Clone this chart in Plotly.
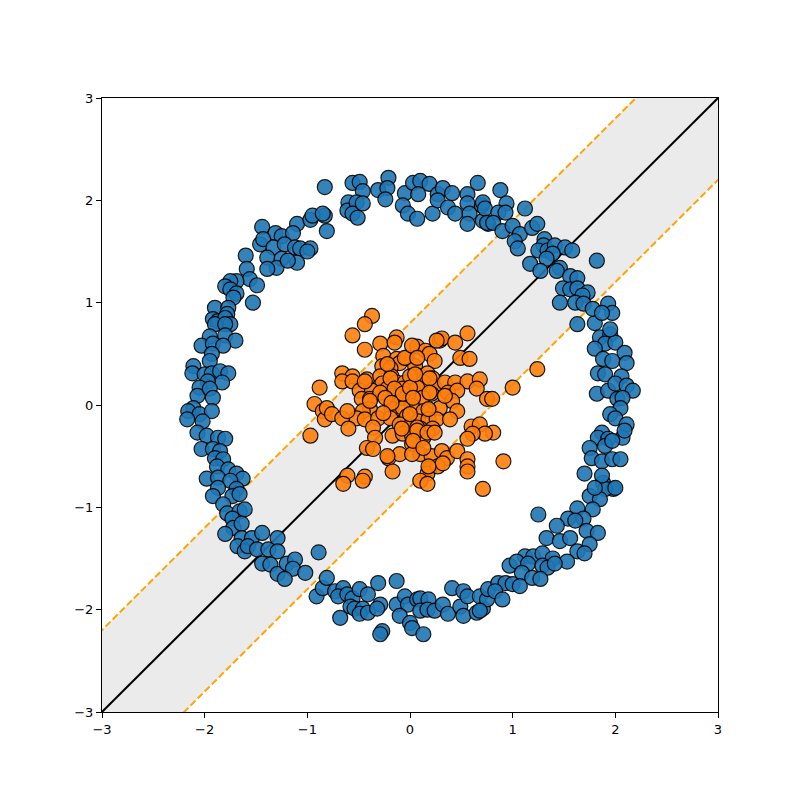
import numpy as np
import plotly.graph_objects as go

# Outer ring (class 0, blue)
blue_x = [-0.83,-0.56,-0.49,-0.46,-0.21,-0.31,-0.22,-0.24,-0.60,-0.61,-0.52,-0.56,-0.51,-0.46,-0.83,-0.81,
          -0.05,0.03,0.10,0.19,0.08,-0.07,-0.02,0.07,0.27,0.32,0.41,0.22,0.27,0.37,0.44,0.56,0.66,0.56,0.58,0.56,0.70,0.71,0.76,
          -1.44,-1.31,-1.25,-1.10,-0.97,-0.95,-0.85,-1.14,-1.46,-1.43,-1.33,-1.22,-1.12,-1.07,-0.97,-1.00,-1.39,-1.25,-1.10,-1.30,-1.39,-1.19,
          -1.60,-1.59,-1.56,-1.49,-1.69,-1.75,-1.80,-1.75,-1.69,-1.72,-1.53,-1.90,-1.77,-1.78,-1.92,-1.87,-1.80,-1.75,
          -1.90,-1.80,-1.95,-1.80,-1.70,-2.03,-1.92,-1.82,-1.93,-1.95,-2.11,-2.12,-2.00,-1.93,-1.85,-1.77,-1.83,-1.97,-2.05,-2.07,-1.95,-1.92,
          -2.11,-2.16,-2.05,-1.93,-2.17,-2.02,-2.07,-1.98,-1.87,-1.80,-2.03,-1.92,-1.85,-1.90,-1.82,-1.88,-1.77,-1.69,-1.63,-1.98,-1.87,-1.75,-1.87,-1.69,
          -1.92,-1.73,-1.66,-1.82,-1.78,-1.66,-1.61,-1.73,-1.72,-1.64,-1.80,-1.64,-1.54,-1.44,-1.68,-1.61,-1.58,-1.49,-1.38,-1.29,-1.29,
          -1.44,-1.36,-1.29,-1.20,-1.12,-1.14,-1.22,-1.02,-0.89,-0.91,-0.85,-0.81,
          -0.73,-0.65,-0.70,-0.61,-0.56,-0.49,-0.41,-0.31,-0.13,-0.58,-0.54,-0.46,-0.49,-0.41,-0.29,-0.32,-0.68,-0.27,-0.29,-0.13,-0.05,-0.02,
          -0.10,0.00,0.02,0.07,0.10,0.18,0.10,0.17,0.24,0.13,0.32,0.41,0.37,0.49,0.52,0.56,0.52,0.65,0.71,0.68,0.75,0.76,
          1.25,1.88,1.98,1.90,1.75,1.85,1.63,1.78,1.69,1.54,1.61,1.43,1.72,1.83,1.33,1.46,1.56,1.75,1.63,1.70,1.12,1.20,1.29,1.39,1.53,
          0.97,1.04,1.15,1.29,1.34,1.41,1.09,1.19,1.27,0.86,0.93,1.00,1.07,0.83,0.90,0.68,
          1.63,1.80,1.85,1.95,1.90,2.00,1.80,2.09,1.88,1.97,2.11,1.83,1.90,2.06,1.82,1.93,2.00,2.11,2.17,2.02,2.07,2.05,1.95,2.00,2.11,
          2.07,2.09,1.87,1.83,1.93,1.75,1.90,1.97,1.77,1.87,1.97,2.05,1.70,1.87,1.80,2.00,
          0.88,0.94,0.71,0.73,0.86,0.93,1.12,0.75,0.81,0.90,1.00,1.07,1.02,1.05,1.19,1.24,1.31,1.30,1.25,1.34,1.41,1.51,1.58,1.39,1.33,
          1.17,1.27,1.46,1.43,1.82,1.56,1.63,1.49,1.56,1.63,1.73,1.68,1.46,1.61,1.69,1.78,1.93,1.97,1.87,1.95]
blue_y = [2.13,2.17,2.18,2.09,2.22,2.10,2.12,2.01,1.98,1.90,1.98,1.87,1.83,1.97,1.85,1.70,
          2.07,2.17,2.19,2.16,2.06,1.95,1.87,1.82,2.06,2.12,2.07,1.87,2.00,1.93,1.87,2.06,2.17,1.97,1.87,1.77,1.95,1.80,1.77,
          1.74,1.68,1.65,1.77,1.81,1.85,1.87,1.68,1.57,1.62,1.54,1.57,1.54,1.53,1.53,1.50,1.44,1.43,1.39,1.34,1.33,1.41,
          1.46,1.33,1.23,1.17,1.21,1.21,1.16,1.13,1.09,1.05,1.00,0.95,0.95,0.89,0.84,0.82,0.85,0.79,
          0.79,0.79,0.67,0.68,0.63,0.58,0.60,0.58,0.50,0.43,0.38,0.31,0.30,0.31,0.33,0.31,0.22,0.23,0.17,0.09,0.16,0.07,
          -0.03,-0.06,-0.09,-0.06,-0.14,-0.16,-0.27,-0.30,-0.32,-0.33,-0.43,-0.43,-0.45,-0.52,-0.53,-0.60,-0.63,-0.67,-0.72,-0.72,-0.71,-0.74,-0.81,-0.82,
          -0.89,-0.89,-0.87,-0.97,-1.06,-1.04,-1.02,-1.11,-1.20,-1.16,-1.26,-1.30,-1.30,-1.25,-1.38,-1.43,-1.38,-1.41,-1.41,-1.30,-1.43,
          -1.55,-1.56,-1.65,-1.55,-1.51,-1.60,-1.70,-1.64,-1.44,-1.87,-1.79,-1.69,
          -1.82,-1.79,-1.87,-1.85,-1.89,-1.80,-1.85,-1.74,-1.72,-1.97,-1.99,-1.99,-2.04,-2.03,-1.95,-1.99,-2.08,-2.21,-2.24,-1.95,-1.87,-1.95,
          -2.06,-2.13,-2.18,-1.90,-1.89,-1.90,-2.01,-2.00,-2.01,-2.24,-1.95,-1.79,-2.04,-1.97,-1.82,-1.87,-2.06,-2.03,-1.99,-1.87,-1.90,-1.80,
          -1.07,-0.76,-0.82,-0.82,-0.89,-0.92,-1.01,-1.02,-1.11,-1.11,-1.13,-1.18,-1.23,-1.25,-1.30,-1.33,-1.30,-1.36,-1.43,-1.45,-1.48,-1.48,-1.45,-1.50,-1.53,
          -1.57,-1.53,-1.55,-1.57,-1.59,-1.55,-1.64,-1.69,-1.70,-1.74,-1.74,-1.75,-1.77,-1.82,-1.90,-2.01,
          0.79,0.80,0.66,0.69,0.60,0.61,0.55,0.51,0.45,0.43,0.41,0.31,0.30,0.28,0.11,0.14,0.21,0.19,0.14,0.06,0.07,-0.03,-0.09,-0.13,-0.19,
          -0.32,-0.25,-0.27,-0.32,-0.33,-0.42,-0.40,-0.35,-0.52,-0.55,-0.53,-0.53,-0.67,-0.69,-0.81,-0.81,
          2.10,1.97,1.98,1.92,1.88,1.88,1.92,1.78,1.78,1.70,1.75,1.67,1.60,1.53,1.73,1.77,1.62,1.56,1.51,1.51,1.56,1.54,1.51,1.48,1.43,
          1.38,1.31,1.34,1.31,1.41,1.26,1.24,1.14,1.13,1.14,1.10,1.07,1.00,1.00,0.99,0.94,0.99,0.90,0.90,0.74]

# Inner cluster (class 1, orange)
orange_x = [-0.88,-0.93,-0.85,-0.83,-0.97,-0.37,-0.44,-0.56,-0.44,-0.29,-0.13,-0.15,0.07,0.15,0.19,0.24,0.29,0.31,0.44,0.56,
            0.49,0.58,-0.26,-0.13,-0.10,-0.03,-0.27,-0.19,0.05,-0.66,-0.56,-0.66,-0.56,-0.42,-0.29,-0.18,-0.13,0.02,0.10,0.17,
            0.22,-0.27,-0.05,0.13,0.24,0.34,0.44,0.56,0.68,0.65,1.00,-0.49,-0.37,-0.22,-0.07,0.07,0.21,0.37,0.46,0.41,
            0.75,0.80,-0.47,-0.39,-0.18,-0.08,0.00,0.12,0.02,0.13,0.19,-0.39,-0.46,-0.18,-0.07,0.29,0.46,-0.81,-0.76,-0.66,
            -0.52,-0.44,-0.31,-0.19,-0.03,0.08,0.18,0.26,0.39,-0.60,-0.36,-0.10,0.00,0.10,0.22,0.60,0.68,0.81,0.73,0.61,
            0.56,-0.34,-0.17,-0.07,0.02,0.13,-0.42,-0.36,-0.21,-0.10,0.02,0.10,0.21,0.31,0.36,0.46,0.56,0.56,0.56,0.91,
            -0.17,0.19,0.17,0.27,0.10,0.17,-0.61,-0.65,-0.44,0.71,1.24,-0.46,
            -0.05,0.02,0.07,-0.22,-0.44,-0.19,0.00,-0.29,-0.15,-0.07,0.00,0.03,-0.39,-0.24,-0.18,-0.61,-0.26,0.00,-0.08,0.07,
            -0.22,0.02,0.26,0.05,0.19,0.19,0.34,0.18,0.07,0.17,0.24,0.03,0.13,0.32,0.18]
orange_y = [0.17,0.01,-0.06,-0.14,-0.30,0.87,0.79,0.68,0.54,0.60,0.66,0.61,0.57,0.53,0.50,0.43,0.63,0.65,0.61,0.70,
            0.46,0.45,0.48,0.45,0.41,0.46,0.38,0.36,0.38,0.31,0.28,0.23,0.23,0.25,0.28,0.28,0.22,0.26,0.28,0.31,
            0.26,0.21,0.22,0.22,0.17,0.22,0.22,0.23,0.25,0.16,0.17,0.14,0.14,0.16,0.16,0.17,0.11,0.12,0.14,0.04,
            0.06,0.06,0.06,0.06,0.09,0.07,0.06,0.07,-0.01,-0.06,-0.06,-0.04,-0.06,-0.04,-0.03,-0.03,-0.06,-0.03,-0.09,-0.13,
            -0.13,-0.14,-0.13,-0.13,-0.11,-0.16,-0.14,-0.14,-0.14,-0.23,-0.22,-0.19,-0.21,-0.23,-0.23,-0.21,-0.19,-0.27,-0.28,-0.28,
            -0.33,-0.32,-0.30,-0.28,-0.30,-0.32,-0.42,-0.43,-0.52,-0.48,-0.38,-0.48,-0.50,-0.45,-0.52,-0.45,-0.53,-0.60,-0.65,-0.55,
            -0.65,-0.62,-0.67,-0.60,-0.74,-0.77,-0.69,-0.77,-0.70,-0.82,0.35,-0.74,
            0.46,0.58,0.46,0.40,0.23,0.26,0.28,0.12,0.16,0.11,0.17,0.07,0.04,0.07,0.02,-0.06,-0.08,-0.09,-0.23,-0.22,
            -0.50,-0.48,0.63,0.30,0.26,0.12,0.09,-0.04,-0.25,-0.27,-0.27,-0.35,-0.42,-0.57,-0.60]

# Linear decision function: w . x + b = 0, margin lines at +/- 0.8 offset
w = [1.0, -1.0]
b = 0.0
margin_level = 0.8
ax_min, ax_max = -3, 3
ticks = [-3, -2, -1, 0, 1, 2, 3]

xx = np.linspace(ax_min - 1, ax_max + 1, 50)
def line_y(level):
    # solves w0*x + w1*y + b = level
    return -(w[0] * xx + b - level) / w[1]

upper = line_y(-margin_level)
lower = line_y(margin_level)
center = line_y(0)

fig = go.Figure()
fig.add_trace(go.Scatter(x=np.concatenate([xx, xx[::-1]]), y=np.concatenate([upper, lower[::-1]]),
                         fill="toself", fillcolor="#ebebeb", line=dict(width=0), mode="lines",
                         hoverinfo="skip", showlegend=False))
fig.add_trace(go.Scatter(x=xx, y=center, mode="lines", line=dict(color="black", width=2), showlegend=False))
for yy in (upper, lower):
    fig.add_trace(go.Scatter(x=xx, y=yy, mode="lines",
                             line=dict(color="orange", width=2, dash="7px,3px"), showlegend=False))

fig.add_trace(go.Scatter(x=blue_x, y=blue_y, mode="markers",
                         marker=dict(size=15, color="#1f77b4", opacity=0.9, line=dict(color="black", width=1.2)),
                         showlegend=False))
fig.add_trace(go.Scatter(x=orange_x, y=orange_y, mode="markers",
                         marker=dict(size=15, color="#ff7f0e", opacity=0.9, line=dict(color="black", width=1.2)),
                         showlegend=False))

axis_common = dict(range=[ax_min, ax_max], tickvals=ticks, ticktext=[("\u2212" + str(-t)) if t < 0 else str(t) for t in ticks],
                   showgrid=False, zeroline=False, showline=True, linecolor="black", linewidth=1, mirror=True,
                   ticks="outside", ticklen=5, tickwidth=1, tickcolor="black",
                   tickfont=dict(family="DejaVu Sans", size=13, color="black"))
fig.update_layout(width=800, height=800, margin=dict(l=94, r=90, t=90, b=96),
                  paper_bgcolor="white", plot_bgcolor="white",
                  xaxis=axis_common, yaxis=axis_common)

fig.write_html("out.html")
